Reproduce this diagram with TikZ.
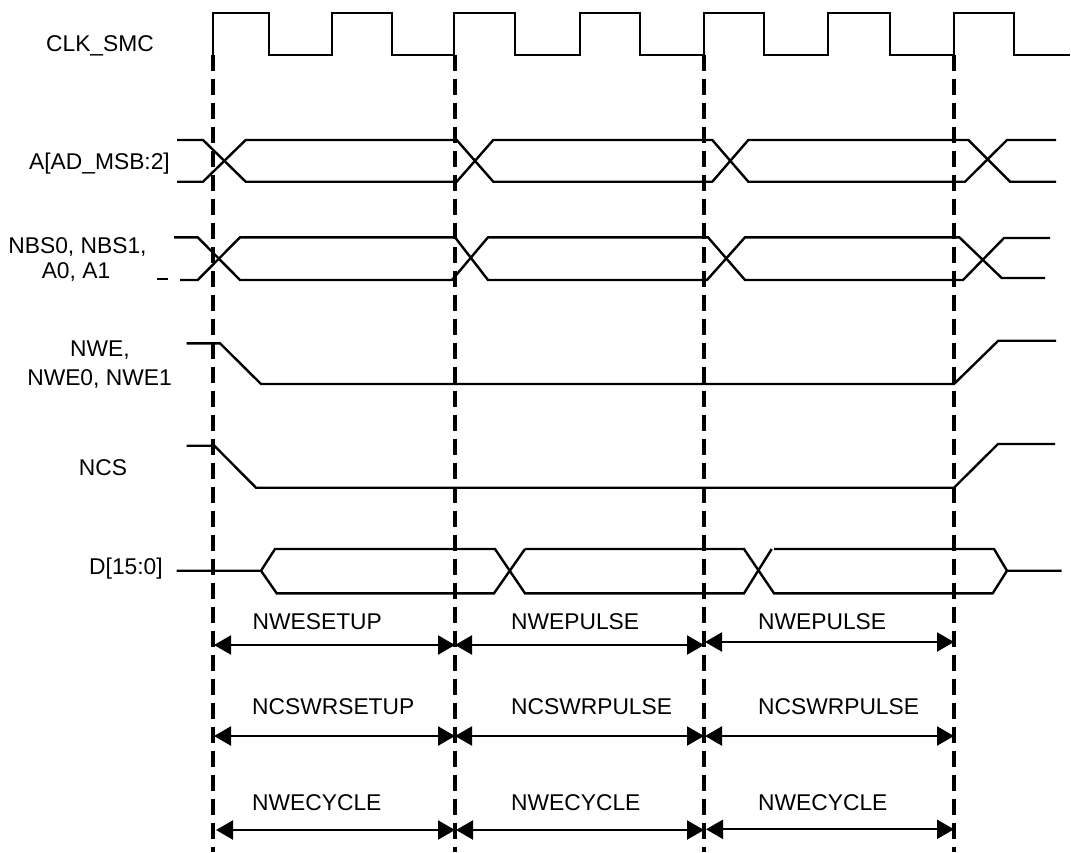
\documentclass[tikz,border=0pt]{standalone}
\usepackage{fontspec}
\setmainfont{Liberation Sans}
\usetikzlibrary{arrows.meta}
\begin{document}
\begin{tikzpicture}[x=1pt,y=-1pt,
  sig/.style={line width=2.4pt, line join=miter, line cap=butt},
  guide/.style={line width=3.2pt, dash pattern=on 16pt off 8pt},
  dimarr/.style={line width=2.2pt, {Triangle[length=17pt,width=19pt]}-{Triangle[length=17pt,width=19pt]}},
  lab/.style={inner sep=0pt, anchor=base, font=\fontsize{22.8}{27}\selectfont},
  dlab/.style={inner sep=0pt, anchor=base west, font=\fontsize{22.8}{27}\selectfont}]
\useasboundingbox (0,0) rectangle (1071,852);

% signal labels
\node[lab] (lclk) at (100,51.7) {CLK\_SMC};
\node[lab] (laddr) at (99.5,169) {A[AD\_MSB:2]};
\node[lab] (lnbs1) at (77.5,253) {NBS0, NBS1,};
\node[lab] (lnbs2) at (76,278) {A0, A1};
\node[lab] (lnwe1) at (100,356.7) {NWE,};
\node[lab] (lnwe2) at (99.5,385) {NWE0, NWE1};
\node[lab] (lncs) at (103,475) {NCS};
\node[lab] (ld) at (126,574) {D[15:0]};

% clock
\draw[sig] (213,55) -- (213,13) -- (269,13) -- (269,55) -- (332,55) -- (332,13)
  -- (392,13) -- (392,55) -- (454,55) -- (454,13) -- (515,13) -- (515,55)
  -- (580,55) -- (580,13) -- (640,13) -- (640,55) -- (704,55) -- (704,13)
  -- (764,13) -- (764,55) -- (828,55) -- (828,13) -- (890,13) -- (890,55)
  -- (954,55) -- (954,13) -- (1014,13) -- (1014,55) -- (1070,55);

% A[AD_MSB:2]
\draw[sig] (177,140) -- (203,140) -- (245.7,181.7) -- (456.7,181.7) -- (493.3,140)
  -- (712.3,140) -- (748.3,181.7) -- (965,181.7) -- (1007,140) -- (1056,140);
\draw[sig] (177,181.7) -- (203,181.7) -- (245.7,140) -- (456.7,140) -- (493.3,181.7)
  -- (712.3,181.7) -- (748.3,140) -- (968.3,140) -- (1010,181.7) -- (1056,181.7);

% NBS0, NBS1, A0, A1
\draw[sig] (157,279) -- (168,279);
\draw[sig] (174,237.3) -- (197.7,237.3) -- (240,280) -- (452,280) -- (488,237.3)
  -- (708,237.3) -- (745,280) -- (963,280) -- (1004,238) -- (1050,238);
\draw[sig] (180,280) -- (197.7,280) -- (240,237.3) -- (455,237.3) -- (488,280)
  -- (707,280) -- (745,237.3) -- (959.3,237.3) -- (1001.7,278) -- (1045,278);

% NWE
\draw[sig] (186.7,343.3) -- (220,343.3) -- (261,384) -- (954,384) -- (998.3,340.7) -- (1056,340.7);

% NCS
\draw[sig] (186.7,445.7) -- (214.3,445.7) -- (256,487.7) -- (954,487.7) -- (998,444) -- (1055,444);

% D[15:0]
\draw[sig] (176.7,570.7) -- (261,570.7) -- (275,549) -- (495,549) -- (525,593.3)
  -- (744,593.3) -- (771.7,549);
\draw[sig] (261,570.7) -- (276.7,593.3) -- (494,593.3) -- (525,549);
\draw[sig] (525,549) -- (744,549) -- (774,593.3) -- (992.7,593.3) -- (1007,570.7) -- (1061.7,570.7);
\draw[sig] (774,549) -- (994,549) -- (1007,570.7);

% guide lines
\foreach \n/\x in {a/213, b/455, c/704, d/954} {
  \coordinate (t\n) at (\x,55);
  \coordinate (b\n) at (\x,852);
  \draw[guide] (t\n) -- (b\n);
}

% dimension arrows
\coordinate (r1a) at (214,645); \coordinate (r1b) at (455,645);
\coordinate (r1c) at (455,645); \coordinate (r1d) at (704,645);
\coordinate (r1e) at (705,642); \coordinate (r1f) at (954,642);
\draw[dimarr] (r1a) -- (r1b);
\draw[dimarr] (r1c) -- (r1d);
\draw[dimarr] (r1e) -- (r1f);
\coordinate (r2a) at (214,736); \coordinate (r2b) at (455,736);
\coordinate (r2c) at (455,736); \coordinate (r2d) at (704,736);
\coordinate (r2e) at (705,736); \coordinate (r2f) at (954,736);
\draw[dimarr] (r2a) -- (r2b);
\draw[dimarr] (r2c) -- (r2d);
\draw[dimarr] (r2e) -- (r2f);
\coordinate (r3a) at (216,830); \coordinate (r3b) at (455,830);
\coordinate (r3c) at (456,830); \coordinate (r3d) at (704,830);
\coordinate (r3e) at (706,829.3); \coordinate (r3f) at (954,829.3);
\draw[dimarr] (r3a) -- (r3b);
\draw[dimarr] (r3c) -- (r3d);
\draw[dimarr] (r3e) -- (r3f);

% dimension labels
\node[dlab] (s1) at (252.5,629.3) {NWESETUP};
\node[dlab] (p1) at (511,629.3) {NWEPULSE};
\node[dlab] (p2) at (758,629.3) {NWEPULSE};
\node[dlab] (s2) at (252,714) {NCSWRSETUP};
\node[dlab] (p3) at (511,714) {NCSWRPULSE};
\node[dlab] (p4) at (758,714) {NCSWRPULSE};
\node[dlab] (c1) at (252,810.7) {NWECYCLE};
\node[dlab] (c2) at (511,810.7) {NWECYCLE};
\node[dlab] (c3) at (758,810.7) {NWECYCLE};
\end{tikzpicture}
\end{document}
